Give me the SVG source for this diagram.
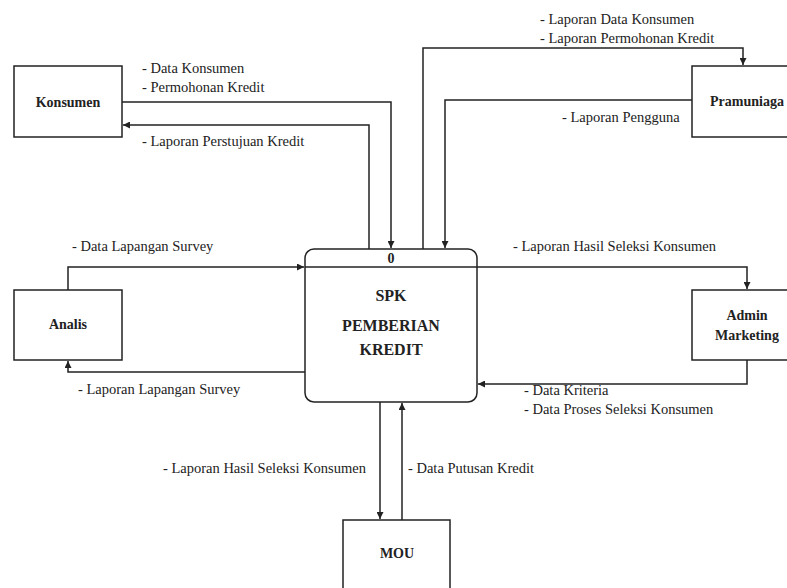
<svg xmlns="http://www.w3.org/2000/svg" width="787" height="588" viewBox="0 0 787 588">
<style>
.box{fill:#fff;stroke:#222;stroke-width:1.5}
.ln{fill:none;stroke:#222;stroke-width:1.5}
.lbl{font-family:"Liberation Serif","DejaVu Serif",serif;font-size:14.5px;fill:#222}
.nm{font-family:"Liberation Serif","DejaVu Serif",serif;font-size:14px;font-weight:bold;fill:#222;text-anchor:middle}
.pn{font-family:"Liberation Serif","DejaVu Serif",serif;font-size:16px;font-weight:bold;fill:#222;text-anchor:middle}
</style>
<defs>
<marker id="ah" viewBox="0 0 10 10" refX="10" refY="5" markerWidth="7" markerHeight="7" markerUnits="userSpaceOnUse" orient="auto">
<path d="M0,0 L10,5 L0,10 Z" fill="#222"/>
</marker>
</defs>
<rect width="787" height="588" fill="#fff"/>
<g id="connectors">
<path class="ln" d="M122,102 H391 V248" marker-end="url(#ah)"/>
<path class="ln" d="M369,249 V125 H123" marker-end="url(#ah)"/>
<path class="ln" d="M423,249 V48 H743 V65" marker-end="url(#ah)"/>
<path class="ln" d="M692,100 H445 V248" marker-end="url(#ah)"/>
<path class="ln" d="M68,290 V267 H304" marker-end="url(#ah)"/>
<path class="ln" d="M305,372 H68 V361" marker-end="url(#ah)"/>
<path class="ln" d="M477,267 H747 V289" marker-end="url(#ah)"/>
<path class="ln" d="M747,360 V384 H478" marker-end="url(#ah)"/>
<path class="ln" d="M380,402 V519" marker-end="url(#ah)"/>
<path class="ln" d="M402,520 V403" marker-end="url(#ah)"/>
<text class="lbl" x="142" y="73">- Data Konsumen</text>
<text class="lbl" x="142" y="92">- Permohonan Kredit</text>
<text class="lbl" x="142" y="146">- Laporan Perstujuan Kredit</text>
<text class="lbl" x="540" y="24">- Laporan Data Konsumen</text>
<text class="lbl" x="540" y="43">- Laporan Permohonan Kredit</text>
<text class="lbl" x="562" y="122">- Laporan Pengguna</text>
<text class="lbl" x="72" y="251">- Data Lapangan Survey</text>
<text class="lbl" x="78" y="394">- Laporan Lapangan Survey</text>
<text class="lbl" x="513" y="251">- Laporan Hasil Seleksi Konsumen</text>
<text class="lbl" x="524" y="395">- Data Kriteria</text>
<text class="lbl" x="524" y="414">- Data Proses Seleksi Konsumen</text>
<text class="lbl" x="163" y="473">- Laporan Hasil Seleksi Konsumen</text>
<text class="lbl" x="408" y="473">- Data Putusan Kredit</text>
</g>
<g id="konsumen">
<rect class="box" x="14" y="66" width="108" height="71"/>
<text class="nm" x="68" y="107">Konsumen</text>
</g>
<g id="pramuniaga">
<rect class="box" x="692" y="66" width="100" height="71"/>
<text class="nm" x="747" y="106">Pramuniaga</text>
</g>
<g id="analis">
<rect class="box" x="14" y="290" width="108" height="70"/>
<text class="nm" x="68" y="329">Analis</text>
</g>
<g id="admin-marketing">
<rect class="box" x="692" y="290" width="100" height="70"/>
<text class="nm" x="747" y="320">Admin</text>
<text class="nm" x="747" y="340">Marketing</text>
</g>
<g id="mou">
<rect class="box" x="343" y="520" width="107" height="75"/>
<text class="nm" x="397" y="558">MOU</text>
</g>
<g id="process">
<rect class="box" x="305" y="249" width="172" height="153" rx="9"/>
<line class="ln" x1="305" y1="267" x2="477" y2="267"/>
<text class="nm" x="391" y="263">0</text>
<text class="pn" x="391" y="301">SPK</text>
<text class="pn" x="391" y="331">PEMBERIAN</text>
<text class="pn" x="391" y="355">KREDIT</text>
</g>
</svg>
